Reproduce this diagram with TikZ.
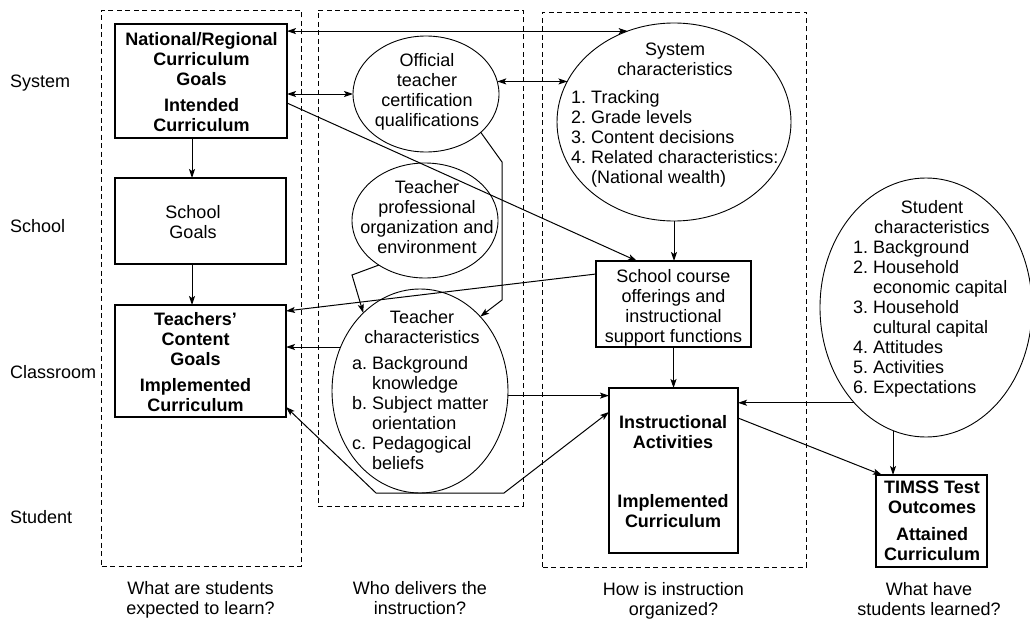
\documentclass[tikz,border=0pt]{standalone}
\usepackage{fontspec}
\setmainfont{Liberation Sans}
\usetikzlibrary{arrows.meta,shapes.geometric}
\frenchspacing
\newcommand{\itemlist}[1]{\begin{tabular}{@{}l@{\hspace{5pt}}l@{}}#1\end{tabular}}
\begin{document}
\begin{tikzpicture}[x=1pt,y=-1pt,
  box/.style={draw, line width=1.3pt, inner sep=0pt, outer sep=0pt},
  ell/.style={draw, ellipse, line width=0.9pt, inner sep=0pt, outer sep=0pt},
  grp/.style={draw, dash pattern=on 5pt off 3.5pt, line width=0.9pt, inner sep=0pt, outer sep=0pt},
  txt/.style={inner sep=0pt, align=center, font=\fontsize{18}{20}\selectfont},
  btxt/.style={inner sep=0pt, align=center, font=\fontsize{18}{20}\selectfont\bfseries},
  ltxt/.style={inner sep=0pt, anchor=north west, font=\fontsize{18}{20}\selectfont},
  lab/.style={inner sep=0pt, font=\fontsize{18}{20}\selectfont},
  conn/.style={line width=1pt, -{Stealth[length=9pt,width=6pt,inset=2pt]}},
  bconn/.style={line width=1pt, {Stealth[length=9pt,width=6pt,inset=2pt]}-{Stealth[length=9pt,width=6pt,inset=2pt]}}
]
\fill[white] (0,0) rectangle (1030,618);
\useasboundingbox (0,0) rectangle (1030,618);

% group frames
\node[grp, minimum width=199.5pt, minimum height=556pt] (G1) at (201.25,288) {};
\node[grp, minimum width=205pt, minimum height=496pt] (G2) at (420.5,258) {};
\node[grp, minimum width=263.5pt, minimum height=555pt] (G3) at (674.25,289.5) {};

% boxes
\node[box, minimum width=172pt, minimum height=114pt] (NRC) at (201,81) {};
\node[box, minimum width=171pt, minimum height=86pt] (SG) at (200.5,221) {};
\node[box, minimum width=171pt, minimum height=112pt] (TCG) at (200.5,361) {};
\node[box, minimum width=155pt, minimum height=86pt] (SCO) at (673.5,304) {};
\node[box, minimum width=129pt, minimum height=165pt] (IA) at (673.5,470.5) {};
\node[box, minimum width=111pt, minimum height=92pt] (TM) at (931.5,521) {};

% ellipses
\node[ell, minimum width=146pt, minimum height=116pt] (OTC) at (426,94) {};
\node[ell, minimum width=146pt, minimum height=115pt] (TPO) at (425,220.5) {};
\node[ell, minimum width=176pt, minimum height=204pt] (TC) at (420,391) {};
\node[ell, minimum width=234pt, minimum height=198pt] (SC) at (674,122) {};
\node[ell, minimum width=212pt, minimum height=259pt] (ST) at (926,307.5) {};

% texts
\node[btxt, anchor=north] (NRCt) at (201.5,32) {National/Regional\\Curriculum\\Goals\\[6pt]Intended\\Curriculum};
\node[txt, anchor=north] (SGt) at (193,205) {School\\Goals};
\node[btxt, anchor=north] (TCGt) at (195.5,312) {Teachers'\\Content\\Goals\\[6.5pt]Implemented\\Curriculum};
\node[txt, anchor=north] (SCOt) at (673.5,269) {School course\\offerings and\\instructional\\support functions};
\node[btxt, anchor=north] (IAt) at (673,415) {Instructional\\Activities\\[39pt]Implemented\\Curriculum};
\node[btxt, anchor=north] (TMt) at (932,481) {TIMSS Test\\Outcomes\\[7pt]Attained\\Curriculum};
\node[txt, anchor=north] (OTCt) at (427,53) {Official\\teacher\\certification\\qualifications};
\node[txt, anchor=north] (TPOt) at (427,180) {Teacher\\professional\\organization and\\environment};
\node[txt, anchor=north] (TCt) at (422,310) {Teacher\\characteristics};
\node[ltxt] (TCl) at (352,355.5) {\itemlist{a. & Background\\ & knowledge\\ b. & Subject matter\\ & orientation\\ c. & Pedagogical\\ & beliefs}};
\node[txt, anchor=north] (SCt) at (675,43) {System\\characteristics};
\node[ltxt] (SCl) at (571,89.5) {\itemlist{1. & Tracking\\ 2. & Grade levels\\ 3. & Content decisions\\ 4. & Related characteristics:\\ & (National wealth)}};
\node[txt, anchor=north] (STt) at (932,200) {Student\\characteristics};
\node[ltxt] (STl) at (853,239.5) {\itemlist{1. & Background\\ 2. & Household\\ & economic capital\\ 3. & Household\\ & cultural capital\\ 4. & Attitudes\\ 5. & Activities\\ 6. & Expectations}};

% row labels
\node[lab, anchor=base west] (rSys) at (10,87.5) {System};
\node[lab, anchor=base west] (rSch) at (10,232.5) {School};
\node[lab, anchor=base west] (rCls) at (10,378.5) {Classroom};
\node[lab, anchor=base west] (rStu) at (10,523.5) {Student};

% column questions
\node[txt, anchor=north] (q1) at (200.5,581) {What are students\\expected to learn?};
\node[txt, anchor=north] (q2) at (420,581) {Who delivers the\\instruction?};
\node[txt, anchor=north] (q3) at (673.5,582) {How is instruction\\organized?};
\node[txt, anchor=north] (q4) at (929,582) {What have\\students learned?};

% connectors
\draw[bconn] (NRC.east |- SC.117) -- (SC.117);
\draw[bconn] (OTC.west -| NRC.east) -- (OTC.west);
\draw[bconn] (OTC.10.4) -- (OTC.10.4 -| SC.159);
\draw[conn] ([yshift=-22pt]NRC.east) -- ([xshift=-36.5pt]SCO.north);
\draw[conn] ([xshift=-9pt]NRC.south) -- ([xshift=-8.5pt]SG.north);
\draw[conn] ([xshift=-8.5pt]SG.south) -- ([xshift=-8.5pt]TCG.north);
\draw[conn] (OTC.-35) -- (502,162) -- (502,300) -- (TC.51);
\draw[conn] (TPO.224) -- (352,275) -- (TC.126);
\draw[conn] ([yshift=30pt]SCO.west) -- ([yshift=-6pt]TCG.north east);
\draw[conn] (TC.151) -- (TC.151 -| TCG.east);
\draw[conn] (TC.-3.3) -- (TC.-3.3 -| IA.west);
\draw[conn] (TC.south) -- ([xshift=-44pt]TC.south) -- ([yshift=10pt]TCG.south east);
\draw[conn] (TC.south) -- ([xshift=84pt]TC.south) -- ([yshift=-24pt]IA.north west);
\draw[conn] (SC.south) -- (SC.south |- SCO.north);
\draw[conn] (SCO.south) -- (SCO.south |- IA.north);
\draw[conn] (ST.233.1) -- (ST.233.1 -| IA.east);
\draw[conn] (ST.255) -- (ST.255 |- TM.north);
\draw[conn] ([yshift=-30pt]IA.north east) -- ([xshift=6pt]TM.north west);
\end{tikzpicture}
\end{document}
